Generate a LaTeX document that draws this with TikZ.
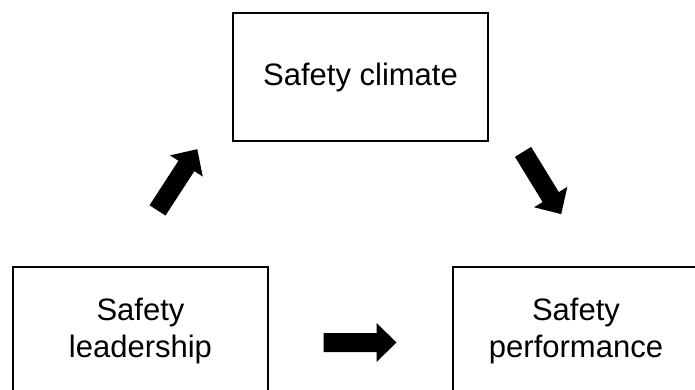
\documentclass[tikz,border=0pt]{standalone}
\usepackage{fontspec}
\setmainfont{Liberation Sans}
\begin{document}
\begin{tikzpicture}[x=1pt,y=1pt,
  textfont/.style={align=center, font=\fontsize{31}{37.5}\selectfont},
  box/.style={draw=black, line width=1.3pt, rectangle,
    minimum width=255pt, minimum height=128pt, inner sep=0pt, textfont},
  blockarrow/.pic={
    \fill[black] (-36.5,-9.5) -- (16.5,-9.5) -- (16.5,-19.5) -- (36.5,0)
      -- (16.5,19.5) -- (16.5,9.5) -- (-36.5,9.5) -- cycle;
  }]
  \useasboundingbox (0,0) rectangle (695,389);
  \begin{scope}
    \clip (0,0) rectangle (695,389);

    % three factors
    \node[box] (climate) at (360.5,312) {Safety climate};
    \node[box] (leader) at (140.5,58) {Safety\\leadership};
    \node[box, minimum width=400pt,
      label={[textfont, xshift=-77pt]center:{Safety\\performance}}]
      (perf) at (653,58) {};
  \end{scope}

  % block arrows linking the factors
  \pic[rotate=57] (upArrow) at (177.4,209.2) {blockarrow};
  \pic[rotate=-58.5] (downArrow) at (542.1,206) {blockarrow};
  \pic (rightArrow) at (360,46.5) {blockarrow};
\end{tikzpicture}
\end{document}
